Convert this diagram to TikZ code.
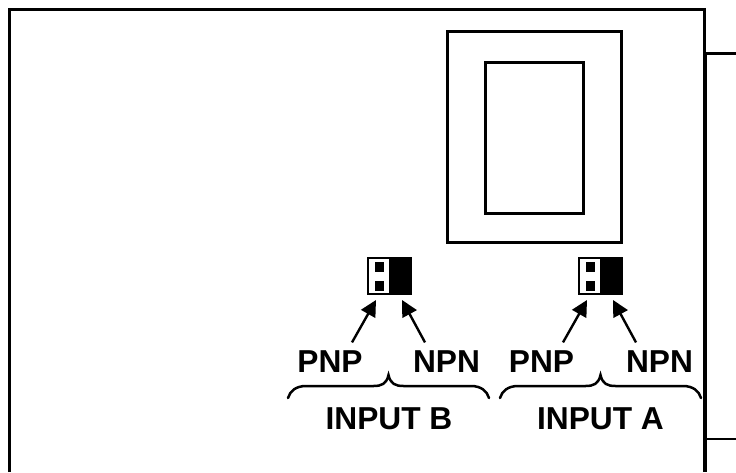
\documentclass[tikz,border=0pt]{standalone}
\usepackage{fontspec}
\setmainfont{Liberation Sans}
\usetikzlibrary{arrows.meta}
\tikzset{
  lab/.style={inner sep=0pt,font=\fontsize{31.7}{32}\selectfont\bfseries,text=black},
  frameline/.style={draw=black,line width=3pt},
  pointer/.style={draw=black,line width=2.4pt,-{Triangle[length=16pt,width=16pt]}},
  bracecurve/.style={draw=black,line width=2.5pt,line cap=round},
  sw/.style={draw=black,line width=2pt,fill=white,minimum width=43pt,minimum height=35.5pt,inner sep=0pt,anchor=north west},
}
\newcommand{\jumper}[3]{%
  \node[sw] (#1) at (#2,#3) {};
  \fill[black] (#2+22,#3) rectangle (#2+43,#3+35.5);
  \fill[black] (#2+8,#3+5) rectangle (#2+17.5,#3+14.5);
  \fill[black] (#2+8,#3+24) rectangle (#2+17.5,#3+33.5);
}
\newcommand{\curlyb}[2]{% left x, right x
  \pgfmathsetmacro{\mx}{(#1+#2)/2}
  \draw[bracecurve] (#1,398) .. controls (#1+2,391) and (#1+8,386) .. (#1+18,386)
    -- (\mx-15,386) .. controls (\mx-7,386) and (\mx-2,384) .. (\mx,375)
    .. controls (\mx+2,384) and (\mx+7,386) .. (\mx+15,386)
    -- (#2-18,386) .. controls (#2-8,386) and (#2-2,391) .. (#2,398);
}
\begin{document}
\begin{tikzpicture}[x=1pt,y=-1pt]
\useasboundingbox (0,0) rectangle (736,472);
\fill[white] (0,0) rectangle (736,472);
% enclosure
\draw[frameline] (9,472) -- (9,9) -- (704,9) -- (704,54);
\draw[draw=black,line width=3.8pt] (705,54) -- (705,472);
\draw[draw=black,line width=2.4pt] (705,53.5) -- (736,53.5);
\draw[draw=black,line width=2.4pt] (705,439) -- (736,439);
% display
\node[draw=black,line width=2.6pt,minimum width=174pt,minimum height=211pt,inner sep=0pt,anchor=north west] (outerbox) at (446,30) {};
\node[draw=black,line width=2.6pt,minimum width=98pt,minimum height=151pt,inner sep=0pt,anchor=north west] (innerbox) at (484,61) {};
% jumpers
\jumper{swB}{366.5}{257}
\jumper{swA}{577.5}{257}
% labels
\node[lab] (pnpB) at (330,361.5) {PNP};
\node[lab] (npnB) at (446.5,361.5) {NPN};
\node[lab] (inB) at (389,418.5) {INPUT B};
\node[lab] (pnpA) at (541.5,361.5) {PNP};
\node[lab] (npnA) at (659.5,361.5) {NPN};
\node[lab] (inA) at (600.5,418.5) {INPUT A};
% pointers
\coordinate (tipBp) at (376,300);
\coordinate (tipBn) at (402,300);
\coordinate (tipAp) at (587,300);
\coordinate (tipAn) at (613,300);
\draw[pointer] (pnpB.north)++(22,-8) -- (tipBp);
\draw[pointer] (npnB.north)++(-21.5,-8) -- (tipBn);
\draw[pointer] (pnpA.north)++(21.5,-8) -- (tipAp);
\draw[pointer] (npnA.north)++(-23.5,-8) -- (tipAn);
% braces
\curlyb{288}{489}
\curlyb{500}{701}
\end{tikzpicture}
\end{document}
